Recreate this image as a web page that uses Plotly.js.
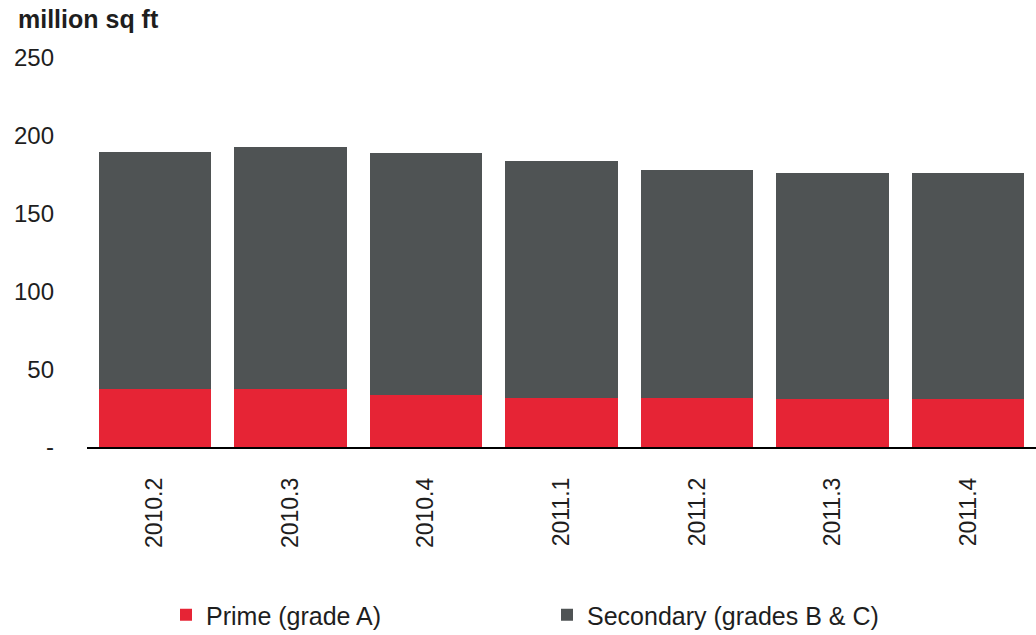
<!DOCTYPE html>
<html>
<head>
<meta charset="utf-8">
<script src="https://cdn.plot.ly/plotly-3.0.1.min.js"></script>
<style>html,body{margin:0;padding:0;background:#fff;}#chart{width:1036px;height:635px;}</style>
</head>
<body>
<div id="chart"></div>
<script>
const categories = ["2010.2", "2010.3", "2010.4", "2011.1", "2011.2", "2011.3", "2011.4"];
const prime = [37.3, 37.1, 33.4, 31.8, 31.3, 30.7, 30.7];
const secondary = [152.5, 155.9, 155.4, 151.9, 146.7, 145.6, 145.6];
const yTickVals = [0, 50, 100, 150, 200, 250];
const yTickText = ["-", "50", "100", "150", "200", "250"];

const FONT = "Liberation Sans, Arial, sans-serif";
const traces = [
  {type: "bar", name: "Prime (grade A)", x: categories, y: prime,
   marker: {color: "#E62435"}},
  {type: "bar", name: "Secondary (grades B & C)", x: categories, y: secondary,
   marker: {color: "#4F5354"}}
];
const layout = {
  width: 1036, height: 635,
  margin: {l: 87, r: 0, t: 58, b: 188},
  barmode: "stack",
  bargap: 0.17,
  paper_bgcolor: "#fff", plot_bgcolor: "#fff",
  font: {family: FONT, size: 24, color: "#1e1e1e"},
  title: {text: "<b>million sq ft</b>", font: {family: FONT, size: 25, color: "#1e1e1e"},
          x: 18/1036, xref: "container", xanchor: "left",
          y: 1 - 19/635, yref: "container", yanchor: "middle"},
  xaxis: {type: "category", tickangle: -90, showline: true, linecolor: "#000", linewidth: 1.5,
          ticks: "", showgrid: false, ticklabelstandoff: 20, zeroline: false,
          tickfont: {family: FONT, size: 23, color: "#1e1e1e"}},
  yaxis: {range: [0, 250], tickvals: yTickVals, ticktext: yTickText, showgrid: false,
          zeroline: false, showline: false, ticks: "", ticklabelstandoff: 32,
          tickfont: {family: FONT, size: 24, color: "#1e1e1e"}},
  showlegend: true,
  legend: {orientation: "h", xref: "container", yref: "container", x: 166/1036, xanchor: "left",
           y: 1 - 615/635, yanchor: "middle", font: {family: FONT, size: 25, color: "#1e1e1e"},
           entrywidth: 336, entrywidthmode: "pixels", traceorder: "normal"}
};
Plotly.newPlot("chart", traces, layout, {displayModeBar: false, staticPlot: true});
</script>
</body>
</html>
